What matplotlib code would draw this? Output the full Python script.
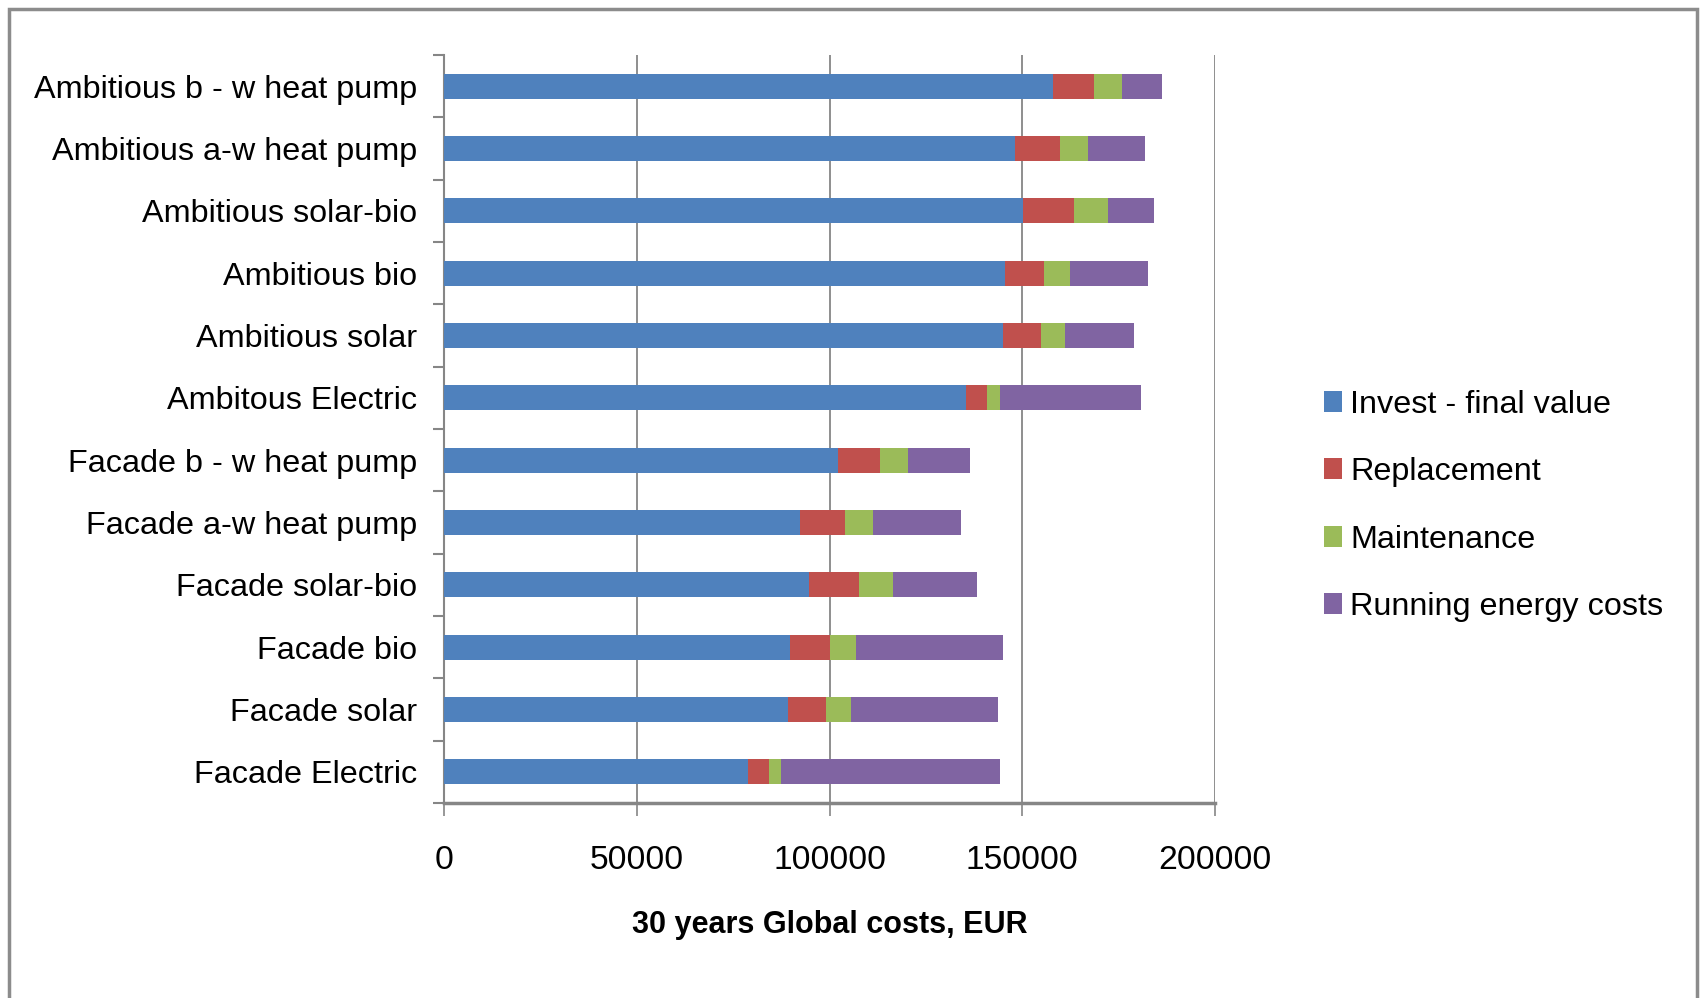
import matplotlib
matplotlib.use("Agg")
import matplotlib.pyplot as plt
from matplotlib.patches import Rectangle
import numpy as np

categories = [
    "Ambitious b - w heat pump",
    "Ambitious a-w heat pump",
    "Ambitious solar-bio",
    "Ambitious bio",
    "Ambitious solar",
    "Ambitous Electric",
    "Facade b - w heat pump",
    "Facade a-w heat pump",
    "Facade solar-bio",
    "Facade bio",
    "Facade solar",
    "Facade Electric",
]
invest = [158000, 148000, 150300, 145500, 145000, 135500, 102300, 92400, 94600, 89700, 89300, 78900]
replacement = [10700, 11700, 13100, 10200, 9800, 5400, 10900, 11700, 13000, 10300, 9800, 5300]
maintenance = [7200, 7300, 8900, 6800, 6200, 3200, 7100, 7100, 9000, 6800, 6400, 3200]
running = [10300, 14800, 11800, 20100, 18000, 36800, 16200, 22900, 21700, 38300, 38100, 56700]
series_names = ["Invest - final value", "Replacement", "Maintenance", "Running energy costs"]
colors = ["#4F81BD", "#C0504D", "#9BBB59", "#8064A2"]
xticks = [0, 50000, 100000, 150000, 200000]
xlabel = "30 years Global costs, EUR"

FONT = ["Liberation Sans Narrow", "Liberation Sans", "DejaVu Sans"]
plt.rcParams["font.family"] = FONT

W, H = 1701, 998
fig = plt.figure(figsize=(W / 100, H / 100), dpi=100)
left, right, top, bottom = 444, 1215, 55, 803
ax = fig.add_axes([left / W, 1 - bottom / H, (right - left) / W, (bottom - top) / H])

y = np.arange(len(categories))
data = [invest, replacement, maintenance, running]
lefts = np.zeros(len(categories))
handles = []
for vals, c, name in zip(data, colors, series_names):
    b = ax.barh(y, vals, left=lefts, height=0.4, color=c, edgecolor="none", label=name, zorder=3)
    handles.append(b)
    lefts = lefts + np.array(vals)

ax.set_ylim(len(categories) - 0.5, -0.5)
ax.set_xlim(0, 200000)
ax.set_xticks(xticks)
ax.set_xticklabels([str(t) for t in xticks])
ax.set_yticks(y)
ax.set_yticklabels(categories)
ax.set_yticks(np.arange(-0.5, len(categories) + 0.5, 1), minor=True)

ax.tick_params(axis="y", which="major", length=0, pad=19, labelsize=23.3)
ax.tick_params(axis="y", which="minor", length=8, width=1.5, color="#868686", direction="out")
ax.tick_params(axis="x", length=9, width=1.2, color="#868686", direction="out", pad=21, labelsize=24.2)

for s in ["top", "right"]:
    ax.spines[s].set_visible(False)
ax.spines["left"].set_color("#868686")
ax.spines["left"].set_linewidth(1.5)
ax.spines["bottom"].set_color("#868686")
ax.spines["bottom"].set_linewidth(2.5)

ax.grid(axis="x", color="#868686", linewidth=1.3, zorder=0)
ax.set_axisbelow(True)

ax.set_xlabel(xlabel, fontsize=22, fontweight="bold", va="center")
ax.xaxis.set_label_coords(0.5, (bottom - 925) / (bottom - top))

leg = fig.legend(handles=handles, labels=series_names, loc="center left",
                 bbox_to_anchor=(1324 / W, 1 - 506 / H), frameon=False,
                 fontsize=23.3, handlelength=0.56, handleheight=0.62, handletextpad=0.25,
                 labelspacing=1.16, borderaxespad=0, borderpad=0)

fig.patches.append(Rectangle((9 / W, -0.1), (1697 - 9) / W, 1.1 - 9 / H,
                             transform=fig.transFigure, fill=False,
                             edgecolor="#8c8c8c", linewidth=2.5))

fig.savefig("out.png", dpi=100)
